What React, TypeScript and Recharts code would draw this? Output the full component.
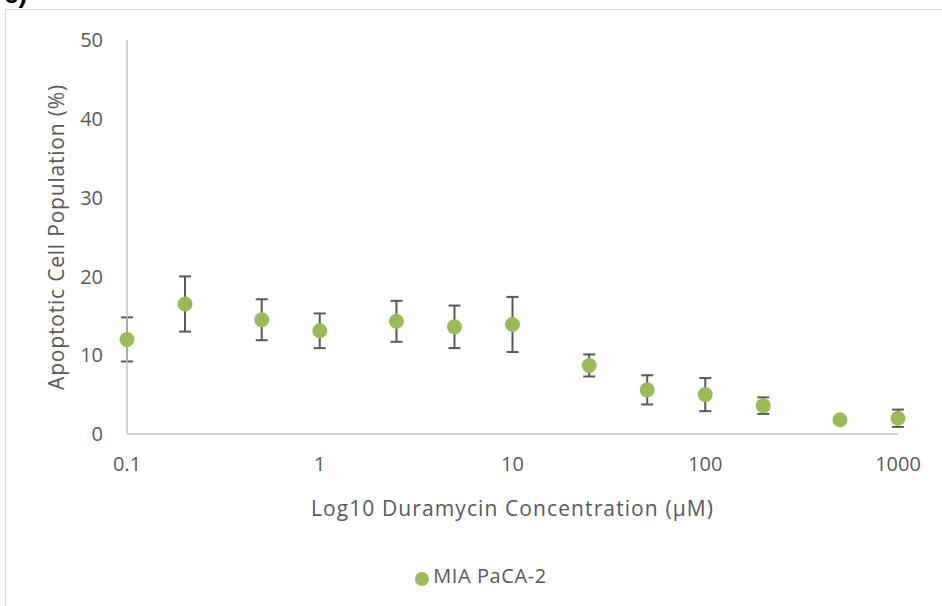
import React from 'react';
import {
  ScatterChart,
  Scatter,
  XAxis,
  YAxis,
  ErrorBar,
  Legend,
} from 'recharts';

// Duramycin concentration (µM) and apoptotic population (%) with error
const concentrations = [0.1, 0.2, 0.5, 1, 2.5, 5, 10, 25, 50, 100, 200, 500, 1000];
const apoptotic = [12.0, 16.5, 14.5, 13.1, 14.3, 13.6, 13.9, 8.7, 5.6, 5.0, 3.6, 1.8, 2.0];
const errors = [2.8, 3.5, 2.6, 2.2, 2.6, 2.7, 3.5, 1.4, 1.85, 2.1, 1.05, null, 1.1];

const xTicks = [0.1, 1, 10, 100, 1000];
const yTicks = [0, 10, 20, 30, 40, 50];

const seriesName = 'MIA PaCA-2';

const data = concentrations.map((c, i) => ({
  conc: c,
  value: apoptotic[i],
  err: errors[i] ?? undefined,
}));

const FONT = '"Open Sans", sans-serif';
const TEXT = '#595959';
const GREEN = '#9bbb59';
const AXIS = '#c6c6c6';

const Dot = (props: any) => (
  <circle cx={props.cx} cy={props.cy} r={7.5} fill={GREEN} />
);

export default function App() {
  return (
    <div
      style={{
        position: 'absolute',
        left: 0,
        top: 0,
        width: 942,
        height: 606,
        overflow: 'hidden',
        background: '#fff',
        fontFamily: FONT,
      }}
    >
      <div
        style={{
          position: 'absolute',
          left: 4,
          top: -19,
          fontSize: 26,
          fontWeight: 'bold',
          lineHeight: 1,
          color: '#000',
          fontFamily: 'Arial, sans-serif',
        }}
      >
        c)
      </div>
      <div
        style={{
          position: 'absolute',
          left: 5,
          top: 9,
          width: 1000,
          height: 700,
          border: '1px solid #d9d9d9',
        }}
      />
      <div style={{ position: 'absolute', left: 0, top: 0 }}>
        <ScatterChart
          width={942}
          height={606}
          margin={{ top: 40, right: 44, bottom: 109, left: 0 }}
        >
          <XAxis
            type="number"
            dataKey="conc"
            scale="log"
            domain={[0.1, 1000]}
            ticks={xTicks}
            tickLine={false}
            tickMargin={17}
            height={63}
            axisLine={{ stroke: AXIS, strokeWidth: 1.5 }}
            tick={{ fill: TEXT, fontSize: 20, fontFamily: FONT }}
            label={{
              value: 'Log10 Duramycin Concentration (µM)',
              position: 'bottom',
              offset: 4,
              fill: TEXT,
              fontSize: 21,
              fontFamily: FONT,
              style: { letterSpacing: '1.1px' },
            }}
          />
          <YAxis
            type="number"
            dataKey="value"
            domain={[0, 50]}
            ticks={yTicks}
            width={127}
            tickLine={false}
            tickMargin={18}
            axisLine={{ stroke: AXIS, strokeWidth: 1.5 }}
            tick={{ fill: TEXT, fontSize: 20, fontFamily: FONT }}
            label={{
              value: 'Apoptotic Cell Population (%)',
              angle: -90,
              position: 'insideLeft',
              offset: 57,
              fill: TEXT,
              fontSize: 21,
              fontFamily: FONT,
              style: { textAnchor: 'middle', letterSpacing: '0.8px' },
            }}
          />
          <Legend
            layout="horizontal"
            align="center"
            verticalAlign="middle"
            iconType="circle"
            iconSize={14}
            wrapperStyle={{ top: 562, left: 30, width: 912 }}
            formatter={(v: string) => (
              <span
                style={{ color: TEXT, fontSize: 20, fontFamily: FONT, letterSpacing: '0.6px' }}
              >
                {v}
              </span>
            )}
          />
          <Scatter
            name={seriesName}
            data={data}
            fill={GREEN}
            shape={Dot}
            isAnimationActive={false}
          >
            <ErrorBar
              dataKey="err"
              direction="y"
              width={6}
              stroke="#595959"
              strokeWidth={2}
            />
          </Scatter>
        </ScatterChart>
      </div>
    </div>
  );
}
